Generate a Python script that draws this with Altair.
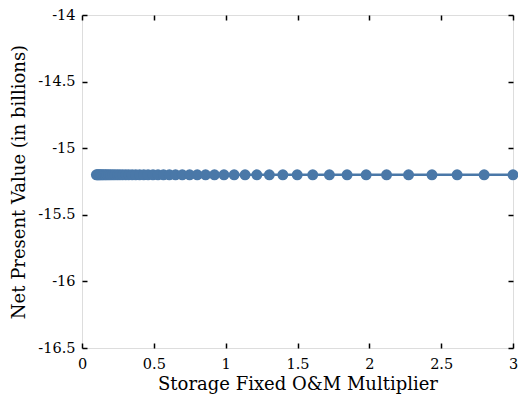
import altair as alt
import pandas as pd

# Storage fixed O&M multiplier sweep and the resulting NPV (billions)
multiplier = [
    0.100, 0.107, 0.115, 0.123, 0.132, 0.141, 0.152, 0.163, 0.174, 0.187,
    0.200, 0.215, 0.230, 0.247, 0.264, 0.283, 0.304, 0.325, 0.349, 0.374,
    0.401, 0.430, 0.460, 0.494, 0.529, 0.567, 0.608, 0.651, 0.698, 0.749,
    0.802, 0.860, 0.922, 0.988, 1.059, 1.135, 1.217, 1.304, 1.398, 1.498,
    1.606, 1.722, 1.845, 1.978, 2.120, 2.273, 2.436, 2.611, 2.799, 3.000,
]
npv = [-15.2] * len(multiplier)

x_ticks = [0, 0.5, 1, 1.5, 2, 2.5, 3]
y_ticks = [-16.5, -16, -15.5, -15, -14.5, -14]

df = pd.DataFrame({"m": multiplier, "npv": npv})

FONT = "DejaVu Serif"
COLOR = "#4A78A8"

x_scale = alt.Scale(domain=[0, 3], nice=False, zero=False)
y_scale = alt.Scale(domain=[-16.5, -14], nice=False, zero=False)

base = alt.Chart(df)

# Series with labelled axes (no ticks; ticks are drawn by the inner axes)
line = base.mark_line(color=COLOR, strokeWidth=2.5).encode(
    x=alt.X("m:Q", scale=x_scale,
            axis=alt.Axis(values=x_ticks, orient="bottom", ticks=False, domain=False,
                          grid=False, labelPadding=9, labelFont=FONT, labelFontSize=14.5,
                          labelColor="black", labelFlush=False,
                          labelExpr="datum.value",
                          title="Storage Fixed O&M Multiplier", titleFont=FONT,
                          titleFontSize=18, titleFontWeight="normal", titleColor="black",
                          titlePadding=5)),
    y=alt.Y("npv:Q", scale=y_scale,
            axis=alt.Axis(values=y_ticks, orient="left", ticks=False, domain=False,
                          grid=False, labelPadding=7, labelFont=FONT, labelFontSize=14.5,
                          labelColor="black", labelFlush=False,
                          labelExpr="datum.value",
                          title="Net Present Value (in billions)", titleFont=FONT,
                          titleFontSize=18, titleFontWeight="normal", titleColor="black",
                          titlePadding=9)),
)
points = base.mark_circle(color=COLOR, opacity=1, size=120).encode(
    x=alt.X("m:Q", scale=x_scale),
    y=alt.Y("npv:Q", scale=y_scale),
)


def tick_layer(x_orient, y_orient):
    # Invisible layer whose axes sit 5px inside the frame, giving inward ticks
    return base.mark_point(opacity=0).encode(
        x=alt.X("m:Q", scale=x_scale,
                axis=alt.Axis(values=x_ticks, orient=x_orient, offset=-5, tickSize=5,
                              tickWidth=1.5, tickColor="black", labels=False,
                              domain=False, grid=False, title=None)),
        y=alt.Y("npv:Q", scale=y_scale,
                axis=alt.Axis(values=y_ticks, orient=y_orient, offset=-5, tickSize=5,
                              tickWidth=1.5, tickColor="black", labels=False,
                              domain=False, grid=False, title=None)),
    )


chart = (
    alt.layer(line + points, tick_layer("bottom", "left"), tick_layer("top", "right"))
    .resolve_axis(x="independent", y="independent")
    .properties(
        width=431,
        height=333,
        autosize=alt.AutoSizeParams(type="none"),
        padding={"left": 82, "top": 15, "right": 5, "bottom": 59},
    )
    .configure_view(stroke="black", strokeWidth=2)
    .configure(background="white")
)

chart.save("out.html", embed_options={"renderer": "svg", "actions": False})
